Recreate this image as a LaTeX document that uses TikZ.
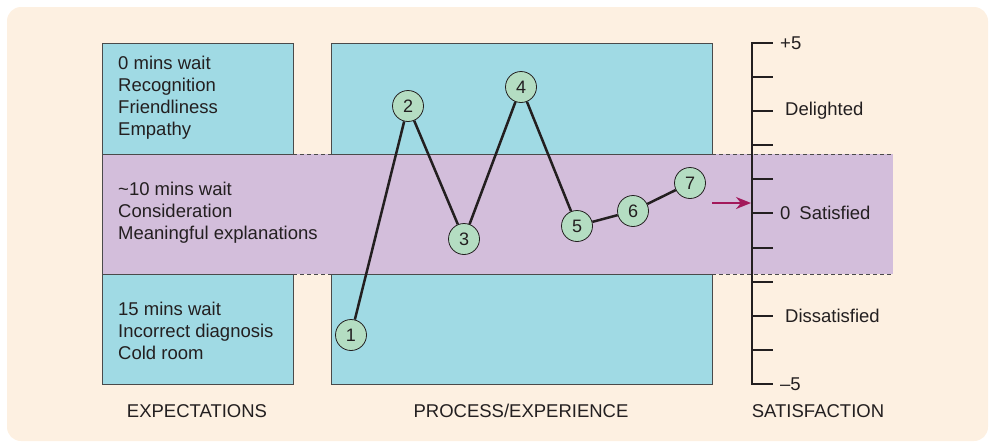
\documentclass[tikz,border=0pt]{standalone}
\usepackage{fontspec}
\setmainfont{Liberation Sans}
\usetikzlibrary{arrows.meta}
\definecolor{bgcream}{HTML}{FDF0E1}
\definecolor{boxblue}{HTML}{A0DAE4}
\definecolor{bandlilac}{HTML}{D3BEDB}
\definecolor{ptgreen}{HTML}{B4DDC2}
\definecolor{inkdark}{HTML}{231F20}
\definecolor{edgegray}{HTML}{4A4A4A}
\definecolor{arrowred}{HTML}{A3195B}
\begin{document}
\begin{tikzpicture}[x=1pt,y=-1pt,
    stage/.style={fill=boxblue, draw=edgegray, line width=0.8pt},
    point/.style={circle, draw=inkdark, fill=ptgreen, line width=0.8pt, minimum size=31pt, inner sep=0pt, text=inkdark, font=\fontsize{18}{18}\selectfont},
    lbl/.style={align=left, anchor=west, inner sep=0pt, text=inkdark, font=\fontsize{18.5}{22}\selectfont},
    captxt/.style={inner sep=0pt, text=inkdark, font=\fontsize{18.5}{18.5}\selectfont}]
  \useasboundingbox (0,0) rectangle (995,445);
  \fill[bgcream, rounded corners=14pt] (7,7) rectangle (988,441);
  % band and boxes
  \fill[bandlilac] (102,154) rectangle (893,274);
  \draw[stage] (102,43) rectangle (293,154);
  \draw[stage] (102,274) rectangle (293,384);
  \draw[stage] (331,43) rectangle (712,154);
  \draw[stage] (331,274) rectangle (712,384);
  \draw[edgegray, line width=0.8pt] (102,154) -- (102,274);
  \draw[edgegray, line width=0.8pt, dash pattern=on 4pt off 3pt] (293,154) -- (331,154) (293,274) -- (331,274);
  \draw[edgegray, line width=0.8pt, dash pattern=on 4pt off 3pt] (712,154) -- (893,154) (712,274) -- (893,274);
  % texts
  \node[lbl] (hi) at (118,98) {0 mins wait\\Recognition\\Friendliness\\Empathy};
  \node[lbl] (mid) at (118,213) {\textasciitilde10 mins wait\\Consideration\\Meaningful explanations};
  \node[lbl] (lo) at (118,331) {15 mins wait\\Incorrect diagnosis\\Cold room};
  % scale
  \draw[inkdark, line width=2.6pt] (752,42) -- (752,385);
  \foreach \y in {43,77,111,145,179,213,248,282,316,350,384}
    \draw[inkdark, line width=1.3pt] (751,\y) -- (773,\y);
  \node[captxt, anchor=west] (plus) at (780,43) {+5};
  \node[captxt, anchor=west] (delight) at (785,111) {Delighted};
  \node[captxt, anchor=west] (zero) at (780,213) {0\hspace{9pt}Satisfied};
  \node[captxt, anchor=west] (dissat) at (785,316) {Dissatisfied};
  \node[captxt, anchor=west] (minus) at (780,384) {\textendash5};
  \coordinate (arrtail) at (712,203);
  \coordinate (arrhead) at (751,203);
  \draw[arrowred, line width=2pt, -{Stealth[length=15pt, width=12pt]}] (arrtail) -- (arrhead);
  % journey
  \node[point] (p1) at (351,335) {1};
  \node[point] (p2) at (408,106) {2};
  \node[point] (p3) at (464,239) {3};
  \node[point] (p4) at (521,87) {4};
  \node[point] (p5) at (577,226) {5};
  \node[point] (p6) at (633,211) {6};
  \node[point] (p7) at (690,183) {7};
  \draw[inkdark, line width=2.5pt] (p1) -- (p2) (p2) -- (p3) (p3) -- (p4) (p4) -- (p5) (p5) -- (p6) (p6) -- (p7);
  % captions
  \node[captxt] (expect) at (197,411) {EXPECTATIONS};
  \node[captxt] (process) at (521,411) {PROCESS/EXPERIENCE};
  \node[captxt] (satis) at (818,411) {SATISFACTION};
\end{tikzpicture}
\end{document}
